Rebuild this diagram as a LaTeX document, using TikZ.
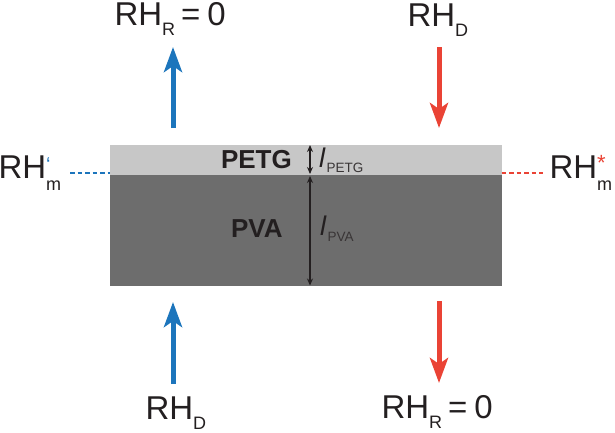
\documentclass[tikz,border=0pt]{standalone}
\usepackage{fontspec}
\setmainfont{Liberation Sans}
\usetikzlibrary{arrows.meta}
\definecolor{myblue}{RGB}{28,117,188}
\definecolor{myred}{RGB}{234,67,53}
\definecolor{petgc}{RGB}{199,199,199}
\definecolor{pvac}{RGB}{109,109,109}
\definecolor{ink}{RGB}{35,31,32}
\newcommand{\lowsub}[1]{\raisebox{-10.5pt}{\fontsize{18}{18}\selectfont #1}}
\begin{document}
\begin{tikzpicture}[x=1pt,y=-1pt,
  lab/.style={anchor=base west, inner sep=0pt, outer sep=0pt, text=ink, font=\fontsize{33}{36}\selectfont},
  layertxt/.style={anchor=base west, inner sep=0pt, outer sep=0pt, text=ink, font=\fontsize{26}{28}\selectfont\bfseries},
  ltxt/.style={anchor=base west, inner sep=0pt, outer sep=0pt, text=ink, font=\fontsize{27}{28}\selectfont\itshape},
  lsub/.style={anchor=base west, inner sep=0pt, outer sep=0pt, text=ink!90, font=\fontsize{13.5}{14}\selectfont},
  bluearrow/.style={draw=myblue, line width=5pt, -{Stealth[length=25pt,width=18pt,inset=6pt]}},
  redarrow/.style={draw=myred, line width=5pt, -{Stealth[length=25pt,width=18pt,inset=6pt]}},
  dblarrow/.style={draw=ink, line width=1.5pt, {Stealth[length=7pt,width=6pt]}-{Stealth[length=7pt,width=6pt]}},
  bluedash/.style={draw=myblue, line width=2pt, dash pattern=on 4.5pt off 3pt},
  reddash/.style={draw=myred, line width=2pt, dash pattern=on 4.5pt off 3pt}
]
\useasboundingbox (0,0) rectangle (615,432);
% layers
\path[fill=petgc] (110,144.5) rectangle (501.5,174.5);
\path[fill=pvac] (110,174.5) rectangle (501.5,286);
\node[layertxt] (petg) at (221,168) {PETG};
\node[layertxt] (pva) at (231,237) {PVA};
% thickness arrows
\coordinate (pt) at (310,145);
\coordinate (pb) at (310,174);
\coordinate (vt) at (310,176);
\coordinate (vb) at (310,285.5);
\draw[dblarrow] (pt) -- (pb);
\draw[dblarrow] (vt) -- (vb);
\node[ltxt] (lpetg) at (319,167) {l};
\node[lsub] (spetg) at (326.5,172.5) {PETG};
\node[ltxt] (lpva) at (320,235) {l};
\node[lsub] (spva) at (327.5,241) {PVA};
% flux arrows
\coordinate (a1s) at (173,128);
\coordinate (a1e) at (173,47);
\coordinate (a2s) at (439,47);
\coordinate (a2e) at (439,128);
\coordinate (a3s) at (173,384);
\coordinate (a3e) at (173,302);
\coordinate (a4s) at (439,301);
\coordinate (a4e) at (439,383);
\draw[bluearrow] (a1s) -- (a1e);
\draw[redarrow] (a2s) -- (a2e);
\draw[bluearrow] (a3s) -- (a3e);
\draw[redarrow] (a4s) -- (a4e);
% RH labels
\node[lab] (tl) at (114.5,25) {RH\lowsub{R}\hspace{6pt}=\hspace{7pt}0};
\node[lab] (tr) at (407.5,26) {RH\lowsub{D}};
\node[lab] (bl) at (145.5,419) {RH\lowsub{D}};
\node[lab] (br) at (381.5,418) {RH\lowsub{R}\hspace{6pt}=\hspace{7pt}0};
% side labels
\coordinate (ld1) at (70,173);
\coordinate (ld2) at (110,173);
\coordinate (rd1) at (501.5,173);
\coordinate (rd2) at (543,173);
\draw[bluedash] (ld1) -- (ld2);
\draw[reddash] (rd1) -- (rd2);
\node[lab] (lm) at (-1.5,178) {RH\rlap{\raisebox{7pt}{\fontsize{20}{20}\selectfont\color{myblue}‘}}\raisebox{-12pt}{\fontsize{18}{18}\selectfont m}};
\node[lab] (rm) at (549.5,178) {RH\rlap{\raisebox{8pt}{\fontsize{22}{22}\selectfont\color{myred}*}}\raisebox{-12pt}{\fontsize{18}{18}\selectfont m}};
\end{tikzpicture}
\end{document}
